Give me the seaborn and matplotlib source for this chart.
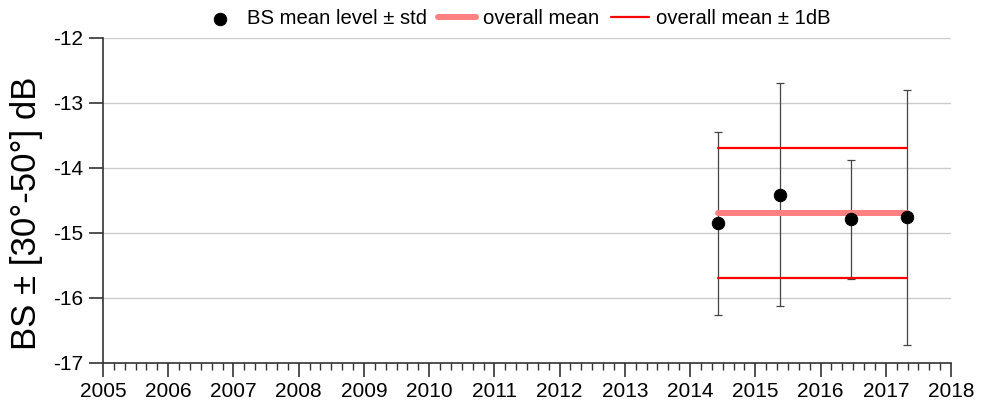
import numpy as np
import pandas as pd
import matplotlib
matplotlib.use("Agg")
import matplotlib.pyplot as plt
import seaborn as sns
from matplotlib.ticker import MultipleLocator

# data
survey_year = [2014.43, 2015.38, 2016.46, 2017.33]
bs_mean = [-14.85, -14.41, -14.79, -14.76]
bs_low = [-16.26, -16.12, -15.71, -16.73]
bs_high = [-13.44, -12.70, -13.87, -12.80]
overall_mean = -14.70
band = 1.0

sns.set_style("white")
plt.rcParams["font.family"] = ["Liberation Sans", "DejaVu Sans"]
plt.rcParams["axes.unicode_minus"] = False
plt.rcParams["text.color"] = "black"
plt.rcParams["axes.labelcolor"] = "black"
plt.rcParams["xtick.labelcolor"] = "black"
plt.rcParams["ytick.labelcolor"] = "black"

df = pd.DataFrame({"year": survey_year, "bs": bs_mean,
                   "low": bs_low, "high": bs_high})

fig = plt.figure(figsize=(9.87, 4.07), dpi=100)
ax = fig.add_axes([103 / 987, 1 - 363 / 407, (951 - 103) / 987, (363 - 38) / 407])

# error bars (std)
yerr = np.array([df["bs"] - df["low"], df["high"] - df["bs"]])
ax.errorbar(df["year"], df["bs"], yerr=yerr, fmt="none", ecolor="#444444",
            elinewidth=0.9, capsize=2.7, capthick=0.9, zorder=2)

# overall mean and +/- 1 dB lines over the survey span
span = pd.DataFrame({"year": [survey_year[0], survey_year[-1]]})
span["mean"] = overall_mean
span["up"] = overall_mean + band
span["down"] = overall_mean - band

sns.lineplot(data=span, x="year", y="mean", color="#ff8080", linewidth=4.3,
             solid_capstyle="round", ax=ax, label="overall mean", zorder=3)
sns.lineplot(data=span, x="year", y="up", color="#ff0000", linewidth=1.6,
             ax=ax, label="overall mean ± 1dB", zorder=3)
sns.lineplot(data=span, x="year", y="down", color="#ff0000", linewidth=1.6,
             ax=ax, zorder=3)

sns.scatterplot(data=df, x="year", y="bs", color="black", s=80,
                edgecolor="black", ax=ax, label="BS mean level ± std", zorder=4)

ax.set_xlim(2005, 2018)
ax.set_ylim(-17, -12)
ax.xaxis.set_major_locator(MultipleLocator(1))
ax.xaxis.set_minor_locator(MultipleLocator(1 / 6))
ax.yaxis.set_major_locator(MultipleLocator(1))
ax.set_xticklabels([str(int(t)) for t in ax.get_xticks()])

ax.yaxis.grid(True, color="#cccccc", linewidth=1)
ax.xaxis.grid(False)
for side in ["top", "right"]:
    ax.spines[side].set_visible(False)
for side in ["left", "bottom"]:
    ax.spines[side].set_color("#333333")
    ax.spines[side].set_linewidth(1.2)

ax.tick_params(axis="both", which="major", direction="out", length=10,
               width=1.2, color="#333333", labelsize=15, pad=4)
ax.tick_params(axis="x", which="minor", direction="out", length=5,
               width=1, color="#333333", bottom=True)
ax.tick_params(axis="x", which="major", bottom=True)
ax.tick_params(axis="y", which="major", left=True)

ax.set_xlabel("")
ax.set_ylabel("BS ± [30°-50°] dB", fontsize=25)
ax.yaxis.set_label_coords(-0.071, 0.4615)

handles, labels = ax.get_legend_handles_labels()
order = [labels.index("BS mean level ± std"), labels.index("overall mean"),
         labels.index("overall mean ± 1dB")]
ax.legend([handles[i] for i in order], [labels[i] for i in order],
          loc="center", bbox_to_anchor=(0.487, 1 + 19 / 325), ncol=3,
          frameon=False, fontsize=14.6, handlelength=1.9, columnspacing=0.55,
          handletextpad=0.35, borderaxespad=0, borderpad=0)

fig.savefig("out.png", dpi=100)
